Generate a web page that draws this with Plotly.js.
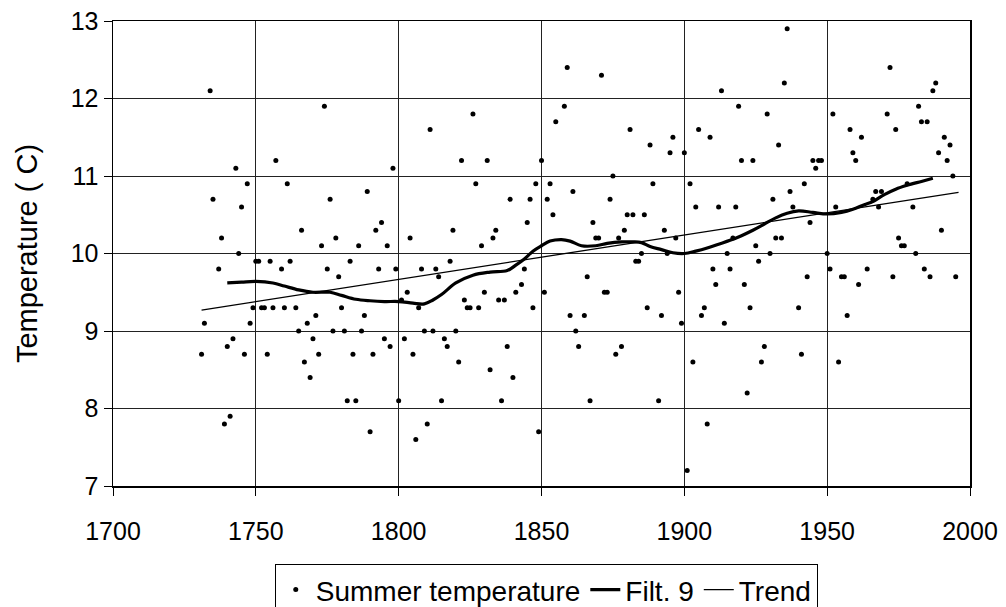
<!DOCTYPE html>
<html>
<head>
<meta charset="utf-8">
<script src="https://cdn.plot.ly/plotly-3.0.1.min.js"></script>
<style>
html,body{margin:0;padding:0;background:#fff;}
#chart{width:1006px;height:607px;}
</style>
</head>
<body>
<div id="chart"></div>
<script>
const years = [1731,1732,1734,1735,1737,1738,1739,1740,1741,1742,1743,1744,1745,1746,1747,1748,1749,1750,1751,1752,1753,1754,1755,1756,1757,1759,1760,1761,1762,1764,1765,1766,1767,1768,1769,1770,1771,1772,1773,1774,1775,1776,1777,1778,1779,1780,1781,1782,1783,1784,1785,1786,1787,1788,1789,1790,1791,1792,1793,1794,1795,1796,1797,1798,1799,1800,1801,1802,1803,1804,1805,1806,1807,1808,1809,1810,1811,1812,1813,1814,1815,1816,1817,1818,1819,1820,1821,1822,1823,1824,1825,1826,1827,1828,1829,1830,1831,1832,1833,1834,1835,1836,1837,1838,1839,1840,1841,1843,1844,1845,1846,1847,1848,1849,1850,1851,1852,1853,1854,1855,1858,1859,1860,1861,1862,1863,1865,1866,1867,1868,1869,1870,1871,1872,1873,1874,1875,1876,1877,1878,1879,1880,1881,1882,1883,1884,1885,1886,1887,1888,1889,1891,1892,1893,1894,1895,1896,1897,1898,1899,1900,1901,1902,1903,1904,1905,1906,1907,1908,1909,1910,1911,1912,1913,1914,1915,1916,1917,1918,1919,1920,1921,1922,1923,1924,1925,1926,1927,1928,1929,1930,1931,1932,1933,1934,1935,1936,1937,1938,1940,1941,1942,1943,1944,1945,1946,1947,1948,1950,1951,1952,1953,1954,1955,1956,1957,1958,1959,1960,1961,1962,1964,1966,1967,1968,1969,1971,1972,1973,1974,1975,1976,1977,1978,1980,1981,1982,1983,1984,1985,1986,1987,1988,1989,1990,1991,1992,1993,1994,1995];
const temps = [8.7,9.1,12.1,10.7,9.8,10.2,7.8,8.8,7.9,8.9,11.1,10.0,10.6,8.7,10.9,9.1,9.3,9.9,9.9,9.3,9.3,8.7,9.9,9.3,11.2,9.8,9.3,10.9,9.9,9.3,9.0,10.3,8.6,9.1,8.4,8.9,9.2,8.7,10.1,11.9,9.8,10.7,9.0,10.2,9.7,9.3,9.0,8.1,9.9,8.7,8.1,10.1,9.0,9.2,10.8,7.7,8.7,10.3,9.8,10.4,8.9,10.1,8.8,11.1,9.8,8.1,9.4,8.9,9.5,10.2,8.7,7.6,9.3,9.8,9.0,7.8,11.6,9.0,9.8,9.7,8.1,8.9,8.8,9.9,10.3,9.0,8.6,11.2,9.4,9.3,9.3,11.8,10.9,9.3,10.1,9.5,11.2,8.5,10.2,10.3,9.4,8.1,9.4,8.8,10.7,8.4,9.5,9.6,9.8,10.4,10.7,9.3,10.9,7.7,11.2,9.5,10.7,10.9,10.5,11.7,11.9,12.4,9.2,10.8,9.0,8.8,9.2,9.7,8.1,10.4,10.2,10.2,12.3,9.5,9.5,10.7,11.0,8.7,10.2,8.8,10.3,10.5,11.6,10.5,9.9,9.9,10.0,10.5,9.3,11.4,10.9,8.1,9.2,10.3,10.0,11.3,11.5,10.2,9.5,9.1,11.3,7.2,10.9,8.6,10.6,11.6,9.2,9.3,7.8,11.5,9.8,9.6,10.6,12.1,9.1,10.0,9.8,10.2,10.6,11.9,11.2,9.6,8.2,9.3,11.2,10.1,9.9,8.6,8.8,11.8,10.0,10.7,10.2,11.4,10.2,12.2,12.9,10.8,10.6,9.3,8.7,10.9,9.7,10.4,11.2,11.1,11.2,11.2,10.0,9.8,11.8,10.6,8.6,9.7,9.7,9.2,11.6,11.3,11.2,9.6,11.5,9.8,10.7,10.8,10.6,10.8,11.8,12.4,9.7,11.6,10.2,10.1,10.1,10.9,10.6,10.0,11.9,11.7,9.8,11.7,9.7,12.1,12.2,11.3,10.3,11.5,11.2,11.4,11.0,9.7];

const filtYears = [1740,1745,1750,1756,1760,1765,1770,1776,1780,1785,1790,1795,1800,1805,1809,1812,1815,1820,1826,1832,1838,1841,1844,1847,1850,1853,1857,1860,1864,1869,1873,1878,1882,1885,1888,1892,1896,1900,1904,1908,1912,1916,1920,1924,1928,1932,1936,1940,1945,1950,1955,1959,1963,1966,1970,1974,1978,1983,1987];
const filtValues = [9.62,9.63,9.64,9.62,9.58,9.53,9.50,9.50,9.46,9.41,9.39,9.38,9.38,9.36,9.35,9.40,9.47,9.62,9.72,9.76,9.78,9.85,9.93,10.03,10.10,10.16,10.18,10.16,10.10,10.10,10.13,10.15,10.15,10.14,10.09,10.05,10.01,10.00,10.03,10.07,10.12,10.17,10.23,10.30,10.38,10.46,10.52,10.55,10.53,10.51,10.53,10.57,10.63,10.67,10.76,10.83,10.88,10.93,10.97];

const trendYears = [1731,1996];
const trendValues = [9.27,10.79];

const xTickVals = [1700,1750,1800,1850,1900,1950,2000];
const yTickVals = [7,8,9,10,11,12,13];

const FONT = 'Liberation Sans, Arial, Helvetica, sans-serif';

const traces = [
  {x: years, y: temps, type: 'scatter', mode: 'markers', name: 'Summer temperature',
   marker: {color: '#000', size: 5, symbol: 'circle'}},
  {x: filtYears, y: filtValues, type: 'scatter', mode: 'lines', name: 'Filt. 9',
   line: {color: '#000', width: 3.2, shape: 'spline', smoothing: 1}},
  {x: trendYears, y: trendValues, type: 'scatter', mode: 'lines', name: 'Trend',
   line: {color: '#000', width: 1.3}}
];

const layout = {
  width: 1006, height: 607,
  margin: {l: 113, r: 36, t: 21, b: 121, autoexpand: false},
  paper_bgcolor: '#fff', plot_bgcolor: '#fff',
  font: {family: FONT, color: '#000', size: 24},
  showlegend: true,
  legend: {orientation: 'h', x: 0.543, xref: 'container', xanchor: 'center',
           y: 0.071, yref: 'container', yanchor: 'top',
           bordercolor: '#000', borderwidth: 1, font: {size: 28, family: FONT},
           itemwidth: 30, tracegroupgap: 0, bgcolor: '#fff'},
  xaxis: {range: [1700, 2000], tickvals: xTickVals, ticktext: xTickVals.map(String),
          showgrid: true, gridcolor: '#222', gridwidth: 1,
          showline: true, linecolor: '#000', linewidth: 1.5, mirror: true,
          ticks: 'outside', ticklen: 8, tickcolor: '#000', ticklabelstandoff: 14,
          tickfont: {size: 25, family: FONT}, zeroline: false, fixedrange: true},
  yaxis: {range: [7, 13], tickvals: yTickVals, ticktext: yTickVals.map(String),
          showgrid: true, gridcolor: '#222', gridwidth: 1,
          showline: true, linecolor: '#000', linewidth: 1.5, mirror: true,
          ticks: 'outside', ticklen: 8, tickcolor: '#000',
          tickfont: {size: 25, family: FONT}, zeroline: false, fixedrange: true,
          title: {text: 'Temperature ( C)', font: {size: 29, family: FONT}, standoff: 24}}
};

Plotly.newPlot('chart', traces, layout, {displayModeBar: false, staticPlot: true});
</script>
</body>
</html>
